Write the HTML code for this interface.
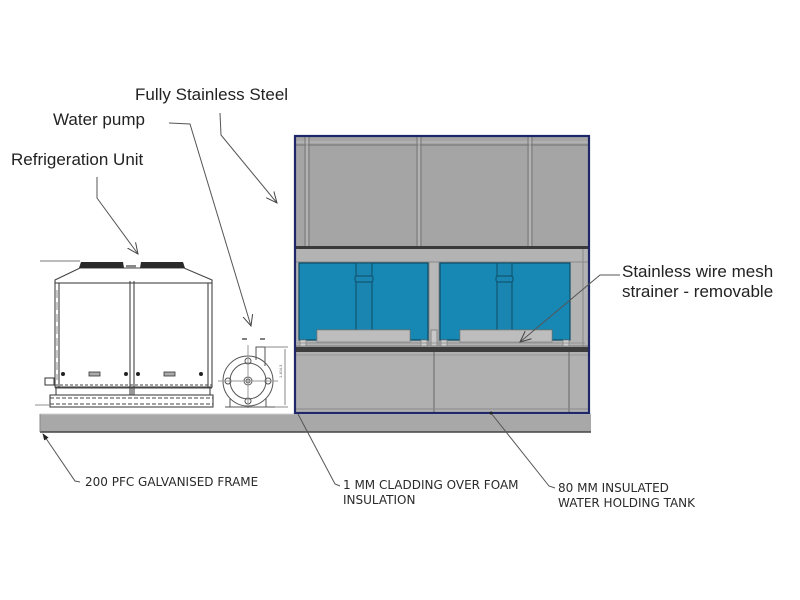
<!DOCTYPE html>
<html><head><meta charset="utf-8"><style>
html,body{margin:0;padding:0;background:#fff;}
svg{display:block;}
.lbl{font-family:"Liberation Sans",Arial,sans-serif;font-size:17px;fill:#222;}
.cap{font-family:"DejaVu Sans","Liberation Sans",sans-serif;font-size:12px;fill:#2a2a2a;}
</style></head><body>
<svg width="800" height="600" viewBox="0 0 800 600" xmlns="http://www.w3.org/2000/svg">
<defs>
<marker id="v" viewBox="0 0 12 12" refX="11" refY="6" markerWidth="12" markerHeight="12" markerUnits="userSpaceOnUse" orient="auto">
<path d="M0,1 L11,6 L0,11" fill="none" stroke="#444" stroke-width="1"/>
</marker>
<marker id="f" viewBox="0 0 8 8" refX="7" refY="4" markerWidth="7" markerHeight="7" markerUnits="userSpaceOnUse" orient="auto">
<path d="M0,1 L8,4 L0,7 z" fill="#222"/>
</marker>
</defs>

<!-- ground frame -->
<rect x="40" y="414" width="551" height="18" fill="#a8a8a8"/>
<line x1="40" y1="414" x2="591" y2="414" stroke="#d0d0d0" stroke-width="1"/>
<line x1="40" y1="432" x2="591" y2="432" stroke="#444" stroke-width="1.5"/>
<line x1="40" y1="414" x2="40" y2="432" stroke="#888" stroke-width="1"/>

<!-- Tank: top section -->
<rect x="295" y="136" width="294" height="112" fill="#a5a5a5"/>
<line x1="295" y1="145" x2="589" y2="145" stroke="#7a7a7a" stroke-width="1.2"/>
<line x1="295" y1="142" x2="589" y2="142" stroke="#bdbdbd" stroke-width="1"/>
<g stroke="#777" stroke-width="1">
<line x1="305" y1="136" x2="305" y2="248"/><line x1="309" y1="136" x2="309" y2="248"/>
<line x1="417" y1="136" x2="417" y2="248"/><line x1="421" y1="136" x2="421" y2="248"/>
<line x1="528" y1="136" x2="528" y2="248"/><line x1="532" y1="136" x2="532" y2="248"/>
</g>
<g stroke="#c0c0c0" stroke-width="1">
<line x1="307" y1="136" x2="307" y2="248"/><line x1="419" y1="136" x2="419" y2="248"/><line x1="530" y1="136" x2="530" y2="248"/>
</g>
<rect x="295" y="246" width="294" height="3" fill="#3a3a3a"/>

<!-- middle section -->
<rect x="295" y="249" width="294" height="98" fill="#b3b3b3"/>
<line x1="295" y1="262" x2="589" y2="262" stroke="#8a8a8a" stroke-width="1"/>
<line x1="295" y1="346" x2="589" y2="346" stroke="#777" stroke-width="1"/>
<line x1="583" y1="249" x2="583" y2="347" stroke="#888" stroke-width="1"/>
<!-- center column -->
<rect x="429" y="262" width="10" height="84" fill="#b8b8b8" stroke="#888" stroke-width="1"/>
<rect x="431" y="330" width="6" height="16" fill="#c8c8c8" stroke="#777" stroke-width="0.8"/>

<!-- blue tank 1 -->
<path d="M299,263 H428 V340 H410 V330 H317 V340 H299 Z" fill="#1787b4" stroke="#0e4d66" stroke-width="1.2"/>
<rect x="356" y="263" width="16" height="67" fill="#1985b0" stroke="#0e4d66" stroke-width="1"/>
<rect x="355" y="276" width="18" height="6" rx="2" fill="#1985b0" stroke="#0e4d66" stroke-width="1"/>
<rect x="317" y="330" width="93" height="12" fill="#bdbdbd" stroke="#888" stroke-width="0.8"/>
<!-- blue tank 2 -->
<path d="M440,263 H570 V340 H552 V330 H460 V340 H440 Z" fill="#1787b4" stroke="#0e4d66" stroke-width="1.2"/>
<rect x="497" y="263" width="15" height="67" fill="#1985b0" stroke="#0e4d66" stroke-width="1"/>
<rect x="496" y="276" width="17" height="6" rx="2" fill="#1985b0" stroke="#0e4d66" stroke-width="1"/>
<rect x="460" y="330" width="92" height="12" fill="#bdbdbd" stroke="#888" stroke-width="0.8"/>
<!-- feet -->
<g fill="#cfcfcf" stroke="#777" stroke-width="0.7">
<rect x="300" y="340" width="6" height="6"/><rect x="421" y="340" width="6" height="6"/>
<rect x="441" y="340" width="6" height="6"/><rect x="563" y="340" width="6" height="6"/>
</g>
<line x1="297" y1="343" x2="585" y2="343" stroke="#888" stroke-width="0.8"/>
<!-- dark bar -->
<rect x="295" y="347" width="294" height="5" fill="#3c3c3c"/>

<!-- bottom section -->
<rect x="295" y="352" width="294" height="61" fill="#b0b0b0"/>
<line x1="295" y1="355" x2="589" y2="355" stroke="#999" stroke-width="1"/>
<line x1="434" y1="352" x2="434" y2="413" stroke="#666" stroke-width="1"/>
<line x1="569" y1="352" x2="569" y2="413" stroke="#666" stroke-width="1"/>
<line x1="295" y1="409" x2="589" y2="409" stroke="#8a8a8a" stroke-width="1"/>

<!-- navy outline -->
<rect x="295" y="136" width="294" height="277" fill="none" stroke="#1e2868" stroke-width="2.2"/>

<!-- Refrigeration unit -->
<g stroke="#444" stroke-width="1.1" fill="none">
<line x1="40" y1="261" x2="80" y2="261" stroke="#777"/>
<path d="M80,268 L55,280 L55,283 L212,283 L212,280 L184,268 Z" fill="#fff"/>
<rect x="55" y="283" width="157" height="104" fill="#fff"/>
<line x1="59" y1="283" x2="59" y2="387"/>
<line x1="208" y1="283" x2="208" y2="387"/>
<line x1="130" y1="281" x2="130" y2="395"/>
<line x1="134" y1="281" x2="134" y2="395"/>
<line x1="55" y1="385" x2="212" y2="385" stroke-dasharray="3,2"/>
<line x1="55" y1="388" x2="212" y2="388"/>
<rect x="50" y="395" width="163" height="12"/>
<line x1="50" y1="398" x2="213" y2="398" stroke-dasharray="4,2"/>
<line x1="50" y1="404" x2="213" y2="404" stroke-dasharray="4,2"/>
<line x1="56" y1="388" x2="56" y2="395"/><line x1="210" y1="388" x2="210" y2="395"/>
<line x1="132" y1="388" x2="132" y2="395"/>
<rect x="45" y="378" width="9" height="7"/>
<line x1="35" y1="405" x2="50" y2="405" stroke="#999"/>
<line x1="57" y1="290" x2="57" y2="380" stroke-dasharray="8,4" stroke="#999"/>
</g>
<!-- fans -->
<path d="M79,268 L81,262 L123,262 L124,268 Z" fill="#2a2a2a"/>
<path d="M140,268 L141,262 L183,262 L185,268 Z" fill="#2a2a2a"/>
<rect x="126" y="265" width="10" height="3" fill="#888"/>
<g fill="#222">
<circle cx="63" cy="374" r="2"/><circle cx="126" cy="374" r="2"/>
<circle cx="138" cy="374" r="2"/><circle cx="201" cy="374" r="2"/>
</g>
<rect x="89" y="372" width="11" height="4" fill="#aaa" stroke="#333" stroke-width="0.8"/>
<rect x="164" y="372" width="11" height="4" fill="#aaa" stroke="#333" stroke-width="0.8"/>

<!-- Pump -->
<g stroke="#555" stroke-width="1" fill="none">
<circle cx="248" cy="381" r="25"/>
<circle cx="248" cy="381" r="18"/>
<circle cx="248" cy="381" r="4"/>
<circle cx="248" cy="381" r="2"/>
<circle cx="248" cy="361" r="3"/><circle cx="248" cy="401" r="3"/>
<circle cx="228" cy="381" r="3"/><circle cx="268" cy="381" r="3"/>
<path d="M256,360 V347 H265 V366"/>
<line x1="218" y1="381" x2="278" y2="381" stroke="#999"/>
<line x1="248" y1="345" x2="248" y2="408" stroke="#999"/>
<line x1="265" y1="347" x2="288" y2="347" stroke="#888"/>
<line x1="265" y1="407" x2="288" y2="407" stroke="#888"/>
<line x1="285" y1="349" x2="285" y2="405" stroke="#888"/>
<line x1="225" y1="407" x2="275" y2="407"/>
<line x1="230" y1="398" x2="230" y2="407"/><line x1="266" y1="398" x2="266" y2="407"/>
<line x1="242" y1="339" x2="247" y2="339" stroke-width="1.5"/><line x1="260" y1="339" x2="265" y2="339" stroke-width="1.5"/>
</g>
<text x="282" y="378" font-family="Liberation Sans,sans-serif" font-size="4" fill="#666" transform="rotate(-90 282 378)">1.404.3</text>

<!-- Top labels -->
<text class="lbl" x="135" y="100">Fully Stainless Steel</text>
<text class="lbl" x="53" y="125">Water pump</text>
<text class="lbl" x="11" y="165">Refrigeration Unit</text>
<text class="lbl" x="622" y="277">Stainless wire mesh</text>
<text class="lbl" x="622" y="297">strainer - removable</text>

<!-- leaders -->
<g stroke="#555" stroke-width="1" fill="none">
<polyline points="220,113 221,135 277,203" marker-end="url(#v)"/>
<polyline points="169,123 190,124 251,326" marker-end="url(#v)"/>
<polyline points="97,177 97,198 138,254" marker-end="url(#v)"/>
<polyline points="620,275 600,275 520,342" marker-end="url(#v)"/>
<polyline points="80,482 75,481 43,434" marker-end="url(#f)"/>
<polyline points="340,486 335,484 298,414"/>
<polyline points="555,488 549,486 491,413"/>
</g>
<circle cx="491" cy="413" r="1.5" fill="#222"/>

<!-- Bottom labels -->
<text class="cap" x="85" y="486">200 PFC GALVANISED FRAME</text>
<text class="cap" x="343" y="489">1 MM CLADDING OVER FOAM</text>
<text class="cap" x="343" y="504">INSULATION</text>
<text class="cap" x="558" y="492">80 MM INSULATED</text>
<text class="cap" x="558" y="507">WATER HOLDING TANK</text>
</svg>
</body></html>
